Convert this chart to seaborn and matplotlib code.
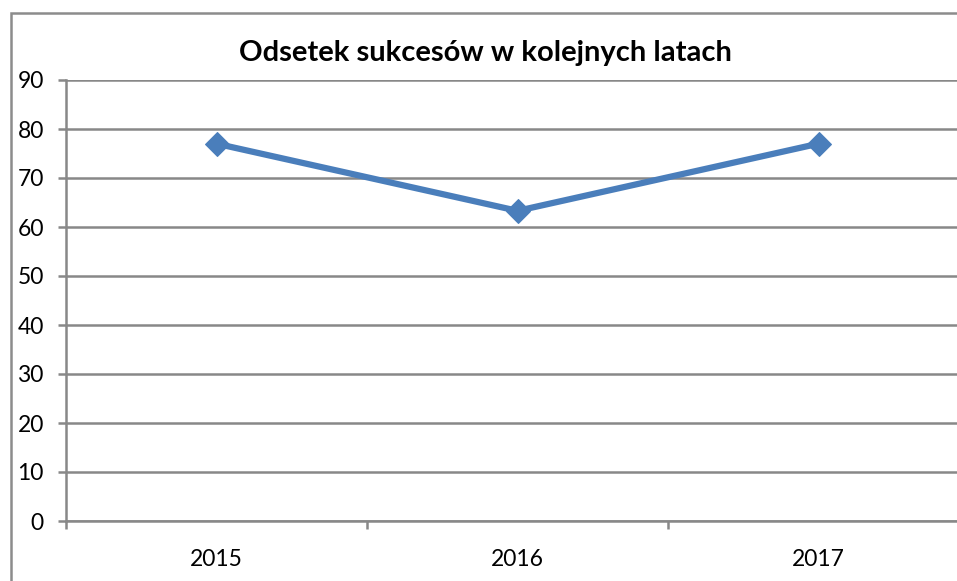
import matplotlib
matplotlib.use("Agg")
import matplotlib.pyplot as plt
import matplotlib.patches as mpatches
import seaborn as sns
import pandas as pd

years = ["2015", "2016", "2017"]
success_rate = [77.0, 63.3, 77.0]
y_ticks = [0, 10, 20, 30, 40, 50, 60, 70, 80, 90]
title = "Odsetek sukcesów w kolejnych latach"

sns.set_theme(style="white")
plt.rcParams["font.family"] = ["Lato", "DejaVu Sans"]

grid_col = "#888888"
line_col = "#4A7EBB"

fig = plt.figure(figsize=(9.57, 5.81), dpi=100)
fig.patch.set_facecolor("white")

# outer chart frame (extends past the right and bottom edges)
frame = mpatches.Rectangle((11 / 957, -0.2), 1.3, 0.2 + 1 - 12.5 / 581,
                           transform=fig.transFigure, fill=False,
                           edgecolor="#8c8c8c", linewidth=1.8, clip_on=False)
fig.patches.append(frame)

ax = fig.add_axes([66 / 957, 1 - 521 / 581, (969 - 66) / 957, (521 - 80) / 581])
ax.set_facecolor("none")

df = pd.DataFrame({"year": years, "rate": success_rate})
sns.lineplot(data=df, x="year", y="rate", ax=ax, color=line_col, linewidth=4.5,
             marker="D", markersize=12, markeredgecolor=line_col,
             markerfacecolor=line_col, sort=False)

ax.set_xlim(-0.5, len(years) - 0.5)
ax.set_ylim(0, 90)
ax.set_yticks(y_ticks)
ax.set_xticks(range(len(years)))
ax.set_xticklabels(years)
ax.set_xticks([i - 0.5 for i in range(len(years) + 1)], minor=True)

for y in y_ticks:
    ax.axhline(y, color=grid_col, linewidth=1.8, zorder=0)

for side in ["top", "right"]:
    ax.spines[side].set_visible(False)
ax.spines["left"].set_color(grid_col)
ax.spines["left"].set_linewidth(1.8)
ax.spines["bottom"].set_color(grid_col)
ax.spines["bottom"].set_linewidth(1.8)

ax.tick_params(axis="y", which="major", left=True, length=6, width=1.8,
               color=grid_col, pad=10, labelsize=16.5, labelcolor="black")
ax.tick_params(axis="x", which="major", bottom=False, pad=14,
               labelsize=16.5, labelcolor="black")
ax.tick_params(axis="x", which="minor", bottom=True, length=6, width=1.8,
               color=grid_col)

ax.set_xlabel("")
ax.set_ylabel("")

fig.text(485 / 957, 1 - 53 / 581, title, ha="center", va="center",
         fontsize=21, fontweight="bold", color="black")

fig.savefig("out.png", dpi=100)
